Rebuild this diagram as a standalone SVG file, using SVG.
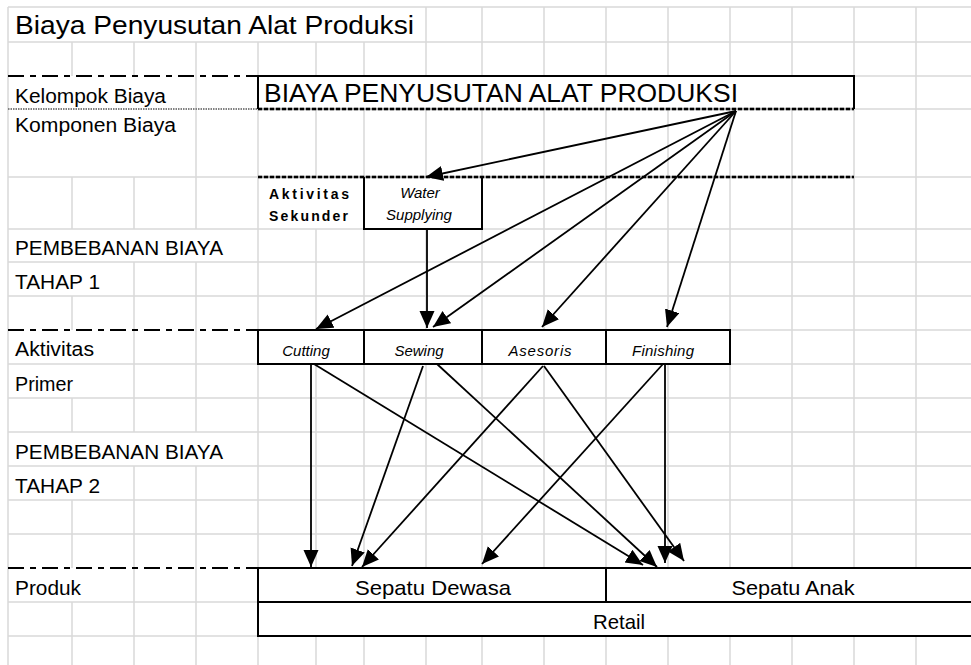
<svg xmlns="http://www.w3.org/2000/svg" width="971" height="665" viewBox="0 0 971 665">
<style>
.grid{stroke:#d9d9d9;stroke-width:1.5;fill:none}
.box{stroke:#000;stroke-width:2;fill:none}
.dd{stroke:#000;stroke-width:2;stroke-dasharray:16 6 6 6;fill:none}
.chk1{stroke:#a0a0a0;stroke-width:2.5;fill:none}
.chk2{stroke:#000;stroke-width:2.5;stroke-dasharray:4 2;fill:none}
.dot{stroke:#808080;stroke-width:2;stroke-dasharray:1.5 1;fill:none}
.t{font-family:"Liberation Sans",Arial,sans-serif;fill:#000}
.lbl{font-size:20px}
.big{font-size:25px}
.act{font-size:15px;font-style:italic}
.bold{font-size:14px;font-weight:bold}
.prod{font-size:21px}
.arr{stroke:#000;stroke-width:1.8;fill:none;marker-end:url(#ah)}
</style>
<defs>
<marker id="ah" markerUnits="userSpaceOnUse" markerWidth="18" markerHeight="16" refX="17" refY="7.5" orient="auto">
<path d="M0,0 L17,7.5 L0,15 Z" fill="#000"/>
</marker>
</defs>
<rect width="971" height="665" fill="#fff"/>
<g id="grid">
<path class="grid" d="M8,7V665
M72,42V76 M72,177V229 M72,296V330 M72,398V432 M72,500V568 M72,602V665
M134,42V76 M134,177V229 M134,262V432 M134,466V665
M196,42V229 M196,262V432 M196,466V665
M258,42V665
M316,42V76 M316,109V177 M316,229V330 M316,364V568 M316,636V665
M364,42V76 M364,109V568 M364,636V665
M426,7V76 M426,109V177 M426,229V330 M426,364V568 M426,636V665
M482,7V76 M482,109V568 M482,636V665
M544,7V76 M544,109V330 M544,364V568 M544,636V665
M606,7V76 M606,109V568 M606,636V665
M668,7V76 M668,109V330 M668,364V568 M668,636V665
M730,7V76 M730,109V568 M730,636V665
M792,7V76 M792,109V568 M792,636V665
M854,7V568 M854,636V665
M916,7V568 M916,636V665
M8,7H971 M8,42H971 M854,76H971 M854,109H971 M8,177H258 M854,177H971
M8,229H971 M8,262H971 M8,296H971 M730,330H971 M8,364H971 M8,398H971 M8,432H971
M8,466H971 M8,500H971 M8,534H971 M8,602H258 M8,636H258"/>
</g>
<g id="separators">
<path class="dd" d="M8,76H258 M8,330H258 M8,568H258"/>
<path class="dot" d="M8,109H258"/>
<path class="chk1" d="M258,109H854 M258,177H854"/>
<path class="chk2" d="M258,109H854 M258,177H854"/>
</g>
<g id="title">
<text class="t big" x="15" y="34" textLength="399" lengthAdjust="spacingAndGlyphs">Biaya Penyusutan Alat Produksi</text>
</g>
<g id="row-labels">
<text class="t lbl" x="15" y="103" textLength="151" lengthAdjust="spacingAndGlyphs">Kelompok Biaya</text>
<text class="t lbl" x="15" y="132" textLength="161" lengthAdjust="spacingAndGlyphs">Komponen Biaya</text>
<text class="t lbl" x="15" y="255" textLength="208" lengthAdjust="spacingAndGlyphs">PEMBEBANAN BIAYA</text>
<text class="t lbl" x="15" y="289" textLength="85" lengthAdjust="spacingAndGlyphs">TAHAP 1</text>
<text class="t lbl" x="15" y="356" textLength="79" lengthAdjust="spacingAndGlyphs">Aktivitas</text>
<text class="t lbl" x="15" y="391" textLength="58" lengthAdjust="spacingAndGlyphs">Primer</text>
<text class="t lbl" x="15" y="459" textLength="208" lengthAdjust="spacingAndGlyphs">PEMBEBANAN BIAYA</text>
<text class="t lbl" x="15" y="493" textLength="85" lengthAdjust="spacingAndGlyphs">TAHAP 2</text>
<text class="t lbl" x="15" y="595" textLength="66" lengthAdjust="spacingAndGlyphs">Produk</text>
</g>
<g id="kelompok-biaya">
<path class="box" d="M258,109V76H854V109"/>
<text class="t big" x="264" y="102" textLength="474" lengthAdjust="spacingAndGlyphs">BIAYA PENYUSUTAN ALAT PRODUKSI</text>
</g>
<g id="aktivitas-sekunder">
<text class="t bold" x="269" y="199" textLength="80">Aktivitas</text>
<text class="t bold" x="269" y="221" textLength="79">Sekunder</text>
</g>
<g id="water-supplying">
<path class="box" d="M364,177V229H482V177"/>
<text class="t act" x="420" y="198" text-anchor="middle">Water</text>
<text class="t act" x="419" y="220" text-anchor="middle">Supplying</text>
</g>
<g id="cutting">
<rect class="box" x="258" y="330" width="106" height="34"/>
<text class="t act" x="306" y="356" text-anchor="middle">Cutting</text>
</g>
<g id="sewing">
<rect class="box" x="364" y="330" width="118" height="34"/>
<text class="t act" x="419" y="356" text-anchor="middle">Sewing</text>
</g>
<g id="asesoris">
<rect class="box" x="482" y="330" width="124" height="34"/>
<text class="t act" x="540" y="356" text-anchor="middle" textLength="63">Asesoris</text>
</g>
<g id="finishing">
<rect class="box" x="606" y="330" width="124" height="34"/>
<text class="t act" x="663" y="356" text-anchor="middle" textLength="62">Finishing</text>
</g>
<g id="sepatu-dewasa">
<path class="box" d="M258,602V568H606V602H258"/>
<text class="t prod" x="433" y="595" text-anchor="middle" textLength="156" lengthAdjust="spacingAndGlyphs">Sepatu Dewasa</text>
</g>
<g id="sepatu-anak">
<path class="box" d="M606,602V568H980V602H606"/>
<text class="t prod" x="793" y="595" text-anchor="middle" textLength="123" lengthAdjust="spacingAndGlyphs">Sepatu Anak</text>
</g>
<g id="retail">
<path class="box" d="M258,602V636H980"/>
<text class="t prod" x="619" y="629" text-anchor="middle" textLength="52" lengthAdjust="spacingAndGlyphs">Retail</text>
</g>
<g id="connectors">
<line class="arr" x1="736" y1="111" x2="426" y2="177"/>
<line class="arr" x1="736" y1="111" x2="316" y2="329"/>
<line class="arr" x1="736" y1="111" x2="433" y2="327"/>
<line class="arr" x1="736" y1="111" x2="542" y2="327"/>
<line class="arr" x1="736" y1="111" x2="667" y2="327"/>
<line class="arr" x1="427" y1="229" x2="427" y2="328"/>
<line class="arr" x1="311" y1="364" x2="311" y2="567"/>
<line class="arr" x1="314" y1="364" x2="643" y2="565"/>
<line class="arr" x1="423" y1="366" x2="352" y2="566"/>
<line class="arr" x1="437" y1="364" x2="657" y2="567"/>
<line class="arr" x1="543" y1="366" x2="362" y2="567"/>
<line class="arr" x1="544" y1="366" x2="684" y2="561"/>
<line class="arr" x1="663" y1="364" x2="482" y2="564"/>
<line class="arr" x1="665" y1="364" x2="665" y2="563"/>
</g>
</svg>
